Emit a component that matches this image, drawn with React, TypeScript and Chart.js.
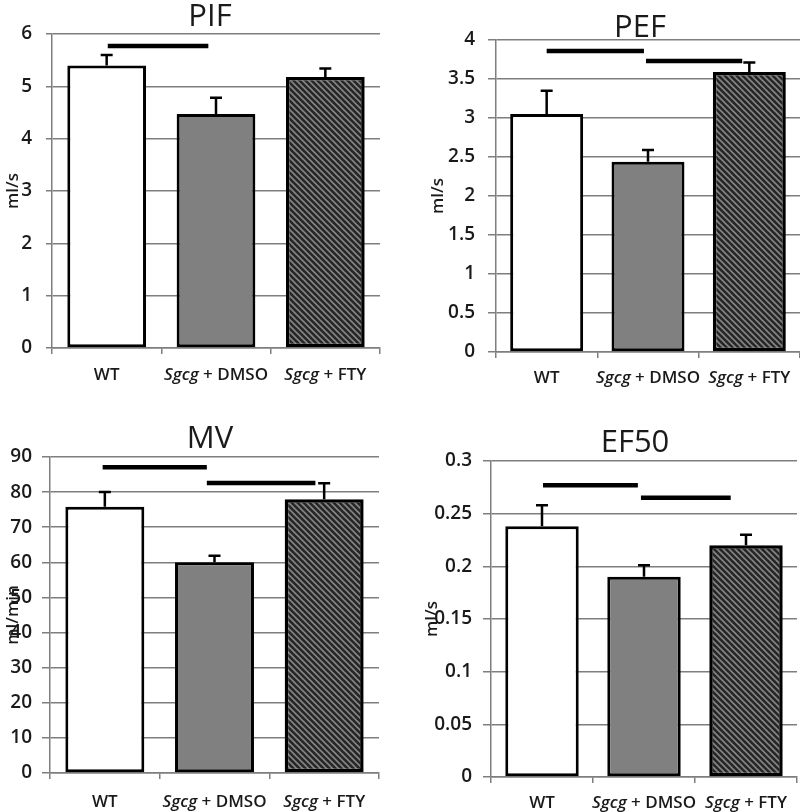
import React, { useEffect, useRef } from "react";
import { Chart, registerables } from "chart.js";

Chart.register(...registerables);

// ---------- data ----------
const categories = ["WT", "Sgcg + DMSO", "Sgcg + FTY"];
const labelItalic = ["", "Sgcg", "Sgcg"];
const labelPlain = ["WT", " + DMSO", " + FTY"];

const panelTitles = ["PIF", "PEF", "MV", "EF50"];
const yTitles = ["ml/s", "ml/s", "ml/min", "ml/s"];
const yMaxes = [6, 4, 90, 0.3];
const ySteps = [1, 0.5, 10, 0.05];

const pifValues = [5.4, 4.47, 5.18];
const pifErrors = [0.2, 0.31, 0.16];
const pifSig = [[0.01, 0.93, 5.77]];

const pefValues = [3.05, 2.44, 3.59];
const pefErrors = [0.3, 0.15, 0.12];
const pefSig = [
  [0.0, 0.96, 3.86],
  [0.98, 1.93, 3.73],
];

const mvValues = [75.8, 60.0, 78.0];
const mvErrors = [4.2, 1.9, 4.5];
const mvSig = [
  [-0.02, 0.93, 87.1],
  [0.93, 1.92, 82.6],
];

const ef50Values = [0.238, 0.19, 0.22];
const ef50Errors = [0.02, 0.011, 0.01];
const ef50Sig = [
  [0.01, 0.94, 0.277],
  [0.97, 1.85, 0.265],
];

const allValues = [pifValues, pefValues, mvValues, ef50Values];
const allErrors = [pifErrors, pefErrors, mvErrors, ef50Errors];
const allSig = [pifSig, pefSig, mvSig, ef50Sig];

// ---------- layout (positions / styles) ----------
const layouts = [
  { left: 0, top: 0, padL: 0, padT: 34, padR: 20, yWidth: 52, xHeight: 58, tickLen: 6, tickPad: 14, titleX: 210, titleY: 26, xLabelY: 380, yTitleX: 13 },
  { left: 400, top: 0, padL: 0, padT: 40, padR: 0, yWidth: 96, xHeight: 54, tickLen: 8, tickPad: 13, titleX: 240, titleY: 37, xLabelY: 383, yTitleX: 38 },
  { left: 0, top: 406, padL: 0, padT: 51, padR: 21, yWidth: 50, xHeight: 39, tickLen: 8, tickPad: 10, titleX: 210, titleY: 42, xLabelY: 401, yTitleX: 13 },
  { left: 400, top: 406, padL: 0, padT: 55, padR: 3, yWidth: 91, xHeight: 35, tickLen: 8, tickPad: 11, titleX: 235, titleY: 46, xLabelY: 402, yTitleX: 32 },
];

const FONT = "'Open Sans', 'DejaVu Sans', sans-serif";
const GRID = "#7e7e7e";
const TEXT = "#1a1a1a";

function makeHatch(): CanvasPattern | string {
  const c = document.createElement("canvas");
  const s = 6;
  c.width = s;
  c.height = s;
  const g = c.getContext("2d");
  if (!g) return "#333";
  g.fillStyle = "#262626";
  g.fillRect(0, 0, s, s);
  g.strokeStyle = "#858585";
  g.lineWidth = 1.6;
  g.beginPath();
  g.moveTo(-1, -1);
  g.lineTo(s + 1, s + 1);
  g.moveTo(-1, s - 1);
  g.lineTo(1, s + 1);
  g.moveTo(s - 1, -1);
  g.lineTo(s + 1, 1);
  g.stroke();
  const p = g.createPattern(c, "repeat");
  return p || "#333";
}

function fmt(v: number): string {
  return String(parseFloat(Number(v).toFixed(4)));
}

function Panel({ idx }: { idx: number }) {
  const ref = useRef<HTMLCanvasElement | null>(null);
  const L = layouts[idx];

  useEffect(() => {
    const canvas = ref.current;
    if (!canvas) return;
    const values = allValues[idx];
    const errors = allErrors[idx];
    const sigs = allSig[idx];

    const overlay = {
      id: "overlay" + idx,
      afterDatasetsDraw(chart: any) {
        const ctx = chart.ctx;
        const xs = chart.scales.x;
        const ys = chart.scales.y;
        ctx.save();
        ctx.strokeStyle = "#000";
        ctx.lineWidth = 2.5;
        values.forEach((v: number, i: number) => {
          const x = xs.getPixelForValue(i);
          const y0 = ys.getPixelForValue(v);
          const y1 = ys.getPixelForValue(v + errors[i]);
          ctx.beginPath();
          ctx.moveTo(x, y0);
          ctx.lineTo(x, y1);
          ctx.moveTo(x - 6, y1);
          ctx.lineTo(x + 6, y1);
          ctx.stroke();
        });
        ctx.lineWidth = 4.5;
        sigs.forEach((s: number[]) => {
          const xa = xs.getPixelForValue(s[0]);
          const xb = xs.getPixelForValue(s[1]);
          const y = ys.getPixelForValue(s[2]);
          ctx.beginPath();
          ctx.moveTo(xa, y);
          ctx.lineTo(xb, y);
          ctx.stroke();
        });
        ctx.restore();
      },
      afterDraw(chart: any) {
        const ctx = chart.ctx;
        const xs = chart.scales.x;
        const area = chart.chartArea;
        ctx.save();
        ctx.fillStyle = TEXT;
        ctx.font = `31px ${FONT}`;
        ctx.textAlign = "center";
        ctx.textBaseline = "alphabetic";
        ctx.fillText(panelTitles[idx], L.titleX, L.titleY);
        ctx.textAlign = "left";
        const fi = `italic 600 17px ${FONT}`;
        const fp = `600 17px ${FONT}`;
        categories.forEach((_c: string, i: number) => {
          const cx = xs.getPixelForValue(i);
          ctx.font = fi;
          const wi = labelItalic[i] ? ctx.measureText(labelItalic[i]).width : 0;
          ctx.font = fp;
          const wp = ctx.measureText(labelPlain[i]).width;
          let x = cx - (wi + wp) / 2;
          if (labelItalic[i]) {
            ctx.font = fi;
            ctx.fillText(labelItalic[i], x, L.xLabelY);
            x += wi;
          }
          ctx.font = fp;
          ctx.fillText(labelPlain[i], x, L.xLabelY);
        });
        ctx.translate(L.yTitleX, (area.top + area.bottom) / 2);
        ctx.rotate(-Math.PI / 2);
        ctx.textAlign = "center";
        ctx.textBaseline = "middle";
        ctx.font = `600 17px ${FONT}`;
        ctx.fillText(yTitles[idx], 0, 0);
        ctx.restore();
      },
    };

    const chart = new Chart(canvas, {
      type: "bar",
      data: {
        labels: categories,
        datasets: [
          {
            data: values,
            backgroundColor: ["#ffffff", "#808080", makeHatch()] as any,
            borderColor: "#000000",
            borderWidth: [3, 3, 3.5] as any,
            borderSkipped: false,
            barPercentage: 0.72,
            categoryPercentage: 1,
          },
        ],
      },
      options: {
        responsive: false,
        animation: false,
        devicePixelRatio: 1,
        layout: { padding: { left: L.padL, top: L.padT, right: L.padR, bottom: 0 } },
        plugins: {
          legend: { display: false },
          tooltip: { enabled: false },
          title: { display: false },
        },
        scales: {
          x: {
            offset: true,
            grid: {
              display: true,
              drawOnChartArea: false,
              drawTicks: true,
              tickLength: 6,
              offset: true,
              color: GRID,
              lineWidth: 1.5,
            },
            border: { display: true, color: GRID, width: 1.5 },
            ticks: { display: false },
            afterFit: (s: any) => {
              s.height = L.xHeight;
            },
          },
          y: {
            min: 0,
            max: yMaxes[idx],
            ticks: {
              stepSize: ySteps[idx],
              color: TEXT,
              font: { family: FONT, size: 19, weight: "600" },
              padding: L.tickPad,
              callback: (v: any) => fmt(v),
            },
            grid: { color: GRID, lineWidth: 1.5, drawTicks: true, tickLength: L.tickLen },
            border: { display: true, color: GRID, width: 1.5 },
            afterFit: (s: any) => {
              s.width = L.yWidth;
            },
          },
        },
      } as any,
      plugins: [overlay],
    });
    return () => chart.destroy();
  }, [idx]);

  return (
    <canvas
      ref={ref}
      width={400}
      height={406}
      style={{ position: "absolute", left: L.left, top: L.top, width: 400, height: 406 }}
    />
  );
}

export default function App() {
  return (
    <div style={{ position: "absolute", left: 0, top: 0, width: 800, height: 812, background: "#fff" }}>
      {[0, 1, 2, 3].map((i) => (
        <Panel key={i} idx={i} />
      ))}
    </div>
  );
}
